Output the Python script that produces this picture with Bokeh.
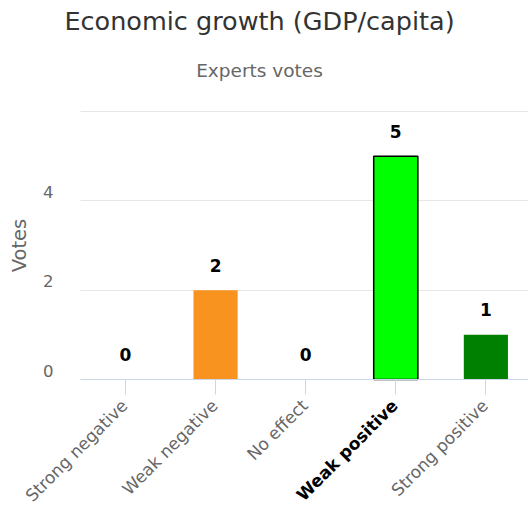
import math
from bokeh.plotting import figure
from bokeh.models import Range1d, FixedTicker, Label, ColumnDataSource
from bokeh.embed import file_html
from bokeh.resources import INLINE

title_text = "Economic growth (GDP/capita)"
subtitle_text = "Experts votes"
y_title = "Votes"
categories = ["Strong negative", "Weak negative", "No effect", "Weak positive", "Strong positive"]
votes = [0, 2, 0, 5, 1]
colors = ["#cc0000", "#f7931e", "#aaaaaa", "#00ff00", "#008000"]
highlight = "Weak positive"
y_ticks = [0, 2, 4, 6]
y_labeled = [0, 2, 4]

FONT = "DejaVu Sans"
xs = list(range(len(categories)))
hl_flags = [c == highlight for c in categories]
src = ColumnDataSource(dict(
    x=xs, top=votes, color=colors,
    line=["#000000" if h else col for h, col in zip(hl_flags, colors)],
    lw=[1.5 if h else 0 for h in hl_flags],
    lbl=[str(v) for v in votes]))

# the frame covers the whole canvas; ranges chosen so that the category band
# (-0.5..4.5) and the value range (0..6) sit where the reference plot area is
p = figure(width=528, height=506, output_backend="svg", toolbar_location=None,
           x_range=Range1d(-1.387, 4.473), y_range=Range1d(-2.843, 8.485),
           y_axis_location=None,
           min_border_left=0, min_border_right=0, min_border_top=0, min_border_bottom=0)
p.outline_line_color = None
p.background_fill_color = "white"
p.border_fill_color = "white"

p.xgrid.grid_line_color = None
p.ygrid.grid_line_color = "#e6e6e6"
p.ygrid.ticker = FixedTicker(ticks=y_ticks)
p.ygrid.cross_bounds = (-0.5, 4.5)

p.vbar(x="x", top="top", width=0.49, source=src, fill_color="color",
       line_color="line", line_width="lw")

p.text(x="x", y="top", text="lbl", source=src, text_align="center", text_baseline="middle",
       y_offset=-25, text_font_size="17px", text_font_style="bold", text_color="#000000",
       text_font={"value": FONT})

# x axis drawn at value 0 inside the frame
ax = p.xaxis[0]
ax.fixed_location = 0
ax.bounds = (-0.5, 4.5)
ax.ticker = FixedTicker(ticks=xs)
ax.major_label_text_font_size = "0px"
ax.axis_line_color = "#ccd6eb"
ax.major_tick_line_color = "#ccd6eb"
ax.major_tick_out = 15
ax.major_tick_in = 0
ax.minor_tick_line_color = None

for i, c in enumerate(categories):
    hl = c == highlight
    p.add_layout(Label(x=i, y=0, text=c, angle=math.pi / 4, text_align="right",
                       text_baseline="middle", x_offset=-1, y_offset=-23,
                       text_font=FONT, text_font_size="17px",
                       text_font_style="bold" if hl else "normal",
                       text_color="#000000" if hl else "#666666"))

for t in y_labeled:
    p.add_layout(Label(x=-0.5, y=t, text=str(t), text_align="right", text_baseline="middle",
                       x_offset=-27, y_offset=9, text_font=FONT, text_font_size="16.5px",
                       text_color="#666666"))

p.add_layout(Label(x=-0.5, y=3, text=y_title, angle=math.pi / 2, text_align="center",
                   text_baseline="middle", x_offset=-61, text_font=FONT,
                   text_font_size="19.5px", text_color="#666666"))

p.add_layout(Label(x=259, y=486, x_units="screen", y_units="screen", text=title_text,
                   text_align="center", text_baseline="middle", text_font=FONT,
                   text_font_size="25.5px", text_color="#333333"))
p.add_layout(Label(x=259, y=436, x_units="screen", y_units="screen", text=subtitle_text,
                   text_align="center", text_baseline="middle", text_font=FONT,
                   text_font_size="18.5px", text_color="#666666"))

open("out.html", "w").write(file_html(p, INLINE))
